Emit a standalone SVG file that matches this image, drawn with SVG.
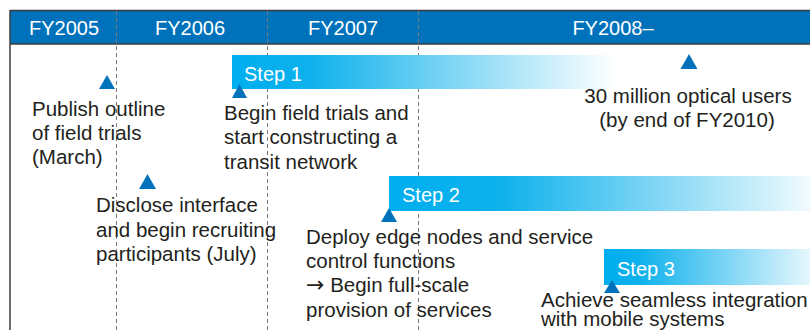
<svg xmlns="http://www.w3.org/2000/svg" width="810" height="330" viewBox="0 0 810 330">
<defs>
<linearGradient id="g1" x1="232" y1="0" x2="615" y2="0" gradientUnits="userSpaceOnUse">
<stop offset="0" stop-color="#00AEEF"/><stop offset="0.2" stop-color="#0DB1EC"/><stop offset="1" stop-color="#FFFFFF"/>
</linearGradient>
<linearGradient id="g2" x1="389" y1="0" x2="830" y2="0" gradientUnits="userSpaceOnUse">
<stop offset="0" stop-color="#00AEEF"/><stop offset="0.25" stop-color="#0DB1EC"/><stop offset="1" stop-color="#FFFFFF"/>
</linearGradient>
<linearGradient id="g3" x1="604" y1="0" x2="830" y2="0" gradientUnits="userSpaceOnUse">
<stop offset="0" stop-color="#00AEEF"/><stop offset="0.15" stop-color="#0DB1EC"/><stop offset="1" stop-color="#FFFFFF"/>
</linearGradient>
</defs>
<style>
text{font-family:"Liberation Sans",Arial,sans-serif;font-size:20.5px;fill:#231F20}
.hd{fill:#FFFFFF;text-anchor:middle;font-size:20px}
.st{fill:#FFFFFF;font-size:20px}
.mid{text-anchor:middle}
.arr{font-family:"DejaVu Sans",sans-serif;font-size:22px}
.tri{fill:#0072BC}
.grid{stroke:#7A7A7A;stroke-width:1;stroke-dasharray:4 3;fill:none}
.frame{stroke:#3C3C3C;stroke-width:1.5;fill:none}
</style>
<rect width="810" height="330" fill="#FFFFFF"/>
<g id="header">
<rect x="10" y="10" width="800" height="34" fill="#0072BC"/>
<line class="frame" x1="10" y1="10.5" x2="810" y2="10.5"/>
<line class="frame" x1="10" y1="44" x2="810" y2="44"/>
<text class="hd" x="64" y="35">FY2005</text>
<text class="hd" x="190" y="35">FY2006</text>
<text class="hd" x="343" y="35">FY2007</text>
<text class="hd" x="613" y="35">FY2008–</text>
</g>
<line class="frame" x1="10" y1="10" x2="10" y2="330"/>
<g id="connectors">
<line class="grid" x1="116.5" y1="11" x2="116.5" y2="330"/>
<line class="grid" x1="267.5" y1="11" x2="267.5" y2="330"/>
<line class="grid" x1="418.5" y1="11" x2="418.5" y2="330"/>
</g>
<g id="step1">
<rect x="232" y="55" width="384" height="34" fill="url(#g1)"/>
<text class="st" x="244" y="81">Step 1</text>
</g>
<g id="step2">
<rect x="389" y="176" width="421" height="35" fill="url(#g2)"/>
<text class="st" x="402" y="202">Step 2</text>
</g>
<g id="step3">
<rect x="604" y="249" width="206" height="36" fill="url(#g3)"/>
<text class="st" x="617" y="276">Step 3</text>
</g>
<g id="m-publish">
<polygon class="tri" points="107,75 115,89 99,89"/>
<text x="32" y="116">Publish outline</text>
<text x="32" y="140">of field trials</text>
<text x="32" y="164">(March)</text>
</g>
<g id="m-disclose">
<polygon class="tri" points="147.5,174 156,189 139,189"/>
<text x="96" y="212">Disclose interface</text>
<text x="96" y="236.5">and begin recruiting</text>
<text x="96" y="261">participants (July)</text>
</g>
<g id="m-begin">
<polygon class="tri" points="239.5,84 247,98 232,98"/>
<text x="224" y="119.5">Begin field trials and</text>
<text x="224" y="144">start constructing a</text>
<text x="224" y="168.5">transit network</text>
</g>
<g id="m-deploy">
<polygon class="tri" points="389,208 397,222 381,222"/>
<text x="306" y="243.5">Deploy edge nodes and service</text>
<text x="306" y="267.5">control functions</text>
<text x="306" y="292"><tspan class="arr">→</tspan> Begin full-scale</text>
<text x="306" y="316.5">provision of services</text>
</g>
<g id="m-users">
<polygon class="tri" points="689,54 697.5,69 680.5,69"/>
<text class="mid" x="688" y="102.5">30 million optical users</text>
<text class="mid" x="687" y="127">(by end of FY2010)</text>
</g>
<g id="m-achieve">
<polygon class="tri" points="612,280 620,293 604,293"/>
<text x="541" y="307">Achieve seamless integration</text>
<text x="541" y="326">with mobile systems</text>
</g>
</svg>
